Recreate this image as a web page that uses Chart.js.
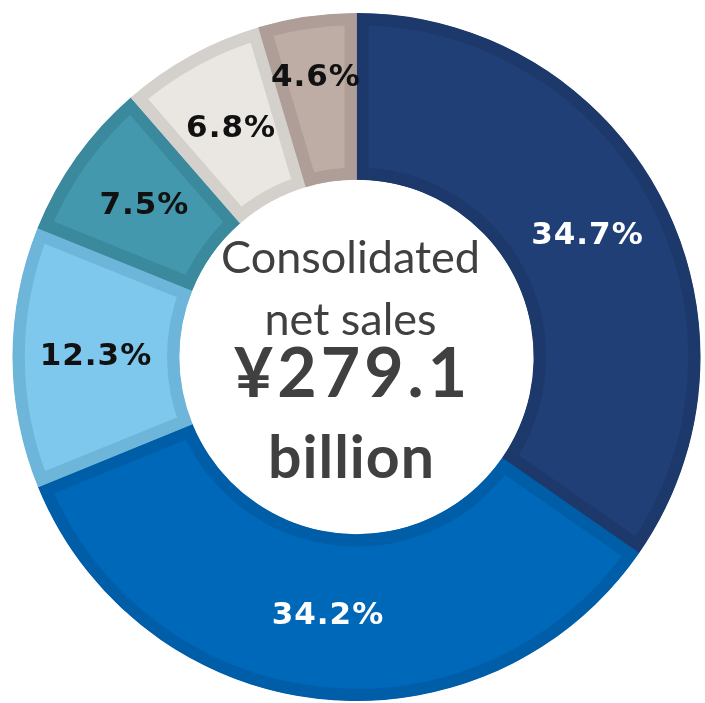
<!DOCTYPE html>
<html>
<head>
    <title>Consolidated Net Sales Breakdown</title>
    <script src="https://cdn.jsdelivr.net/npm/chart.js"></script>
    <style>
        body { margin: 0; background: #fff; }
    </style>
</head>
<body>
    <canvas id="salesChart" width="705" height="703"></canvas>
    <script>
        // Share of consolidated net sales, clockwise from 12 o'clock
        const segments = ['Segment A', 'Segment B', 'Segment C', 'Segment D', 'Segment E', 'Segment F'];
        const shares = [34.7, 34.2, 12.3, 7.5, 6.8, 4.6];
        const fillColors = ['#213f77', '#0068b8', '#7ec8ee', '#4398ad', '#eae7e3', '#beada5'];
        const edgeColors = ['#1d396b', '#005ea9', '#6eb5da', '#3a899c', '#d4d1cd', '#ae9e97'];
        const labelColors = ['#ffffff', '#ffffff', '#111111', '#111111', '#111111', '#111111'];
        const centerLines = ['Consolidated', 'net sales', '¥279.1', 'billion'];

        // Percent labels on the ring plus the total in the hole
        const ringText = {
            id: 'ringText',
            afterDatasetsDraw(chart, args, opts) {
                const ctx = chart.ctx;
                const arcs = chart.getDatasetMeta(0).data;
                ctx.save();
                ctx.textAlign = 'center';
                ctx.textBaseline = 'middle';
                ctx.font = 'bold 31px "DejaVu Sans"';
                ctx.letterSpacing = '1px';
                arcs.forEach((arc, i) => {
                    const p = arc.getProps(['x', 'y', 'startAngle', 'endAngle', 'innerRadius', 'outerRadius'], true);
                    const mid = (p.startAngle + p.endAngle) / 2;
                    const f = opts.radial[i] ?? 0.5;
                    const r = p.innerRadius + (p.outerRadius - p.innerRadius) * f;
                    ctx.fillStyle = labelColors[i];
                    ctx.fillText(shares[i].toFixed(1) + '%', p.x + Math.cos(mid) * r, p.y + Math.sin(mid) * r);
                });

                const c = arcs[0];
                const cx = c.x - 6;
                ctx.fillStyle = '#404040';
                ctx.textBaseline = 'alphabetic';
                ctx.letterSpacing = '0px';
                ctx.font = '45px Lato';
                ctx.fillText(centerLines[0], cx, c.y - 84);
                ctx.fillText(centerLines[1], cx, c.y - 22);
                ctx.letterSpacing = '4px';
                ctx.font = 'bold 68px Lato';
                ctx.fillText(centerLines[2], cx + 2, c.y + 40);
                ctx.letterSpacing = '1px';
                ctx.font = 'bold 59px Lato';
                ctx.fillText(centerLines[3], cx + 1, c.y + 121);
                ctx.restore();
            }
        };

        new Chart(document.getElementById('salesChart'), {
            type: 'doughnut',
            data: {
                labels: segments,
                datasets: [{
                    data: shares,
                    backgroundColor: fillColors,
                    borderColor: edgeColors,
                    borderWidth: 12,
                    borderAlign: 'inner',
                    borderJoinStyle: 'miter',
                    hoverOffset: 0
                }]
            },
            options: {
                responsive: false,
                animation: false,
                cutout: '51.5%',
                layout: { padding: { left: 12, right: 4, top: 13, bottom: 2 } },
                events: [],
                plugins: {
                    legend: { display: false },
                    tooltip: { enabled: false },
                    ringText: { radial: { 5: 0.63 } }
                }
            },
            plugins: [ringText]
        });
    </script>
</body>
</html>
